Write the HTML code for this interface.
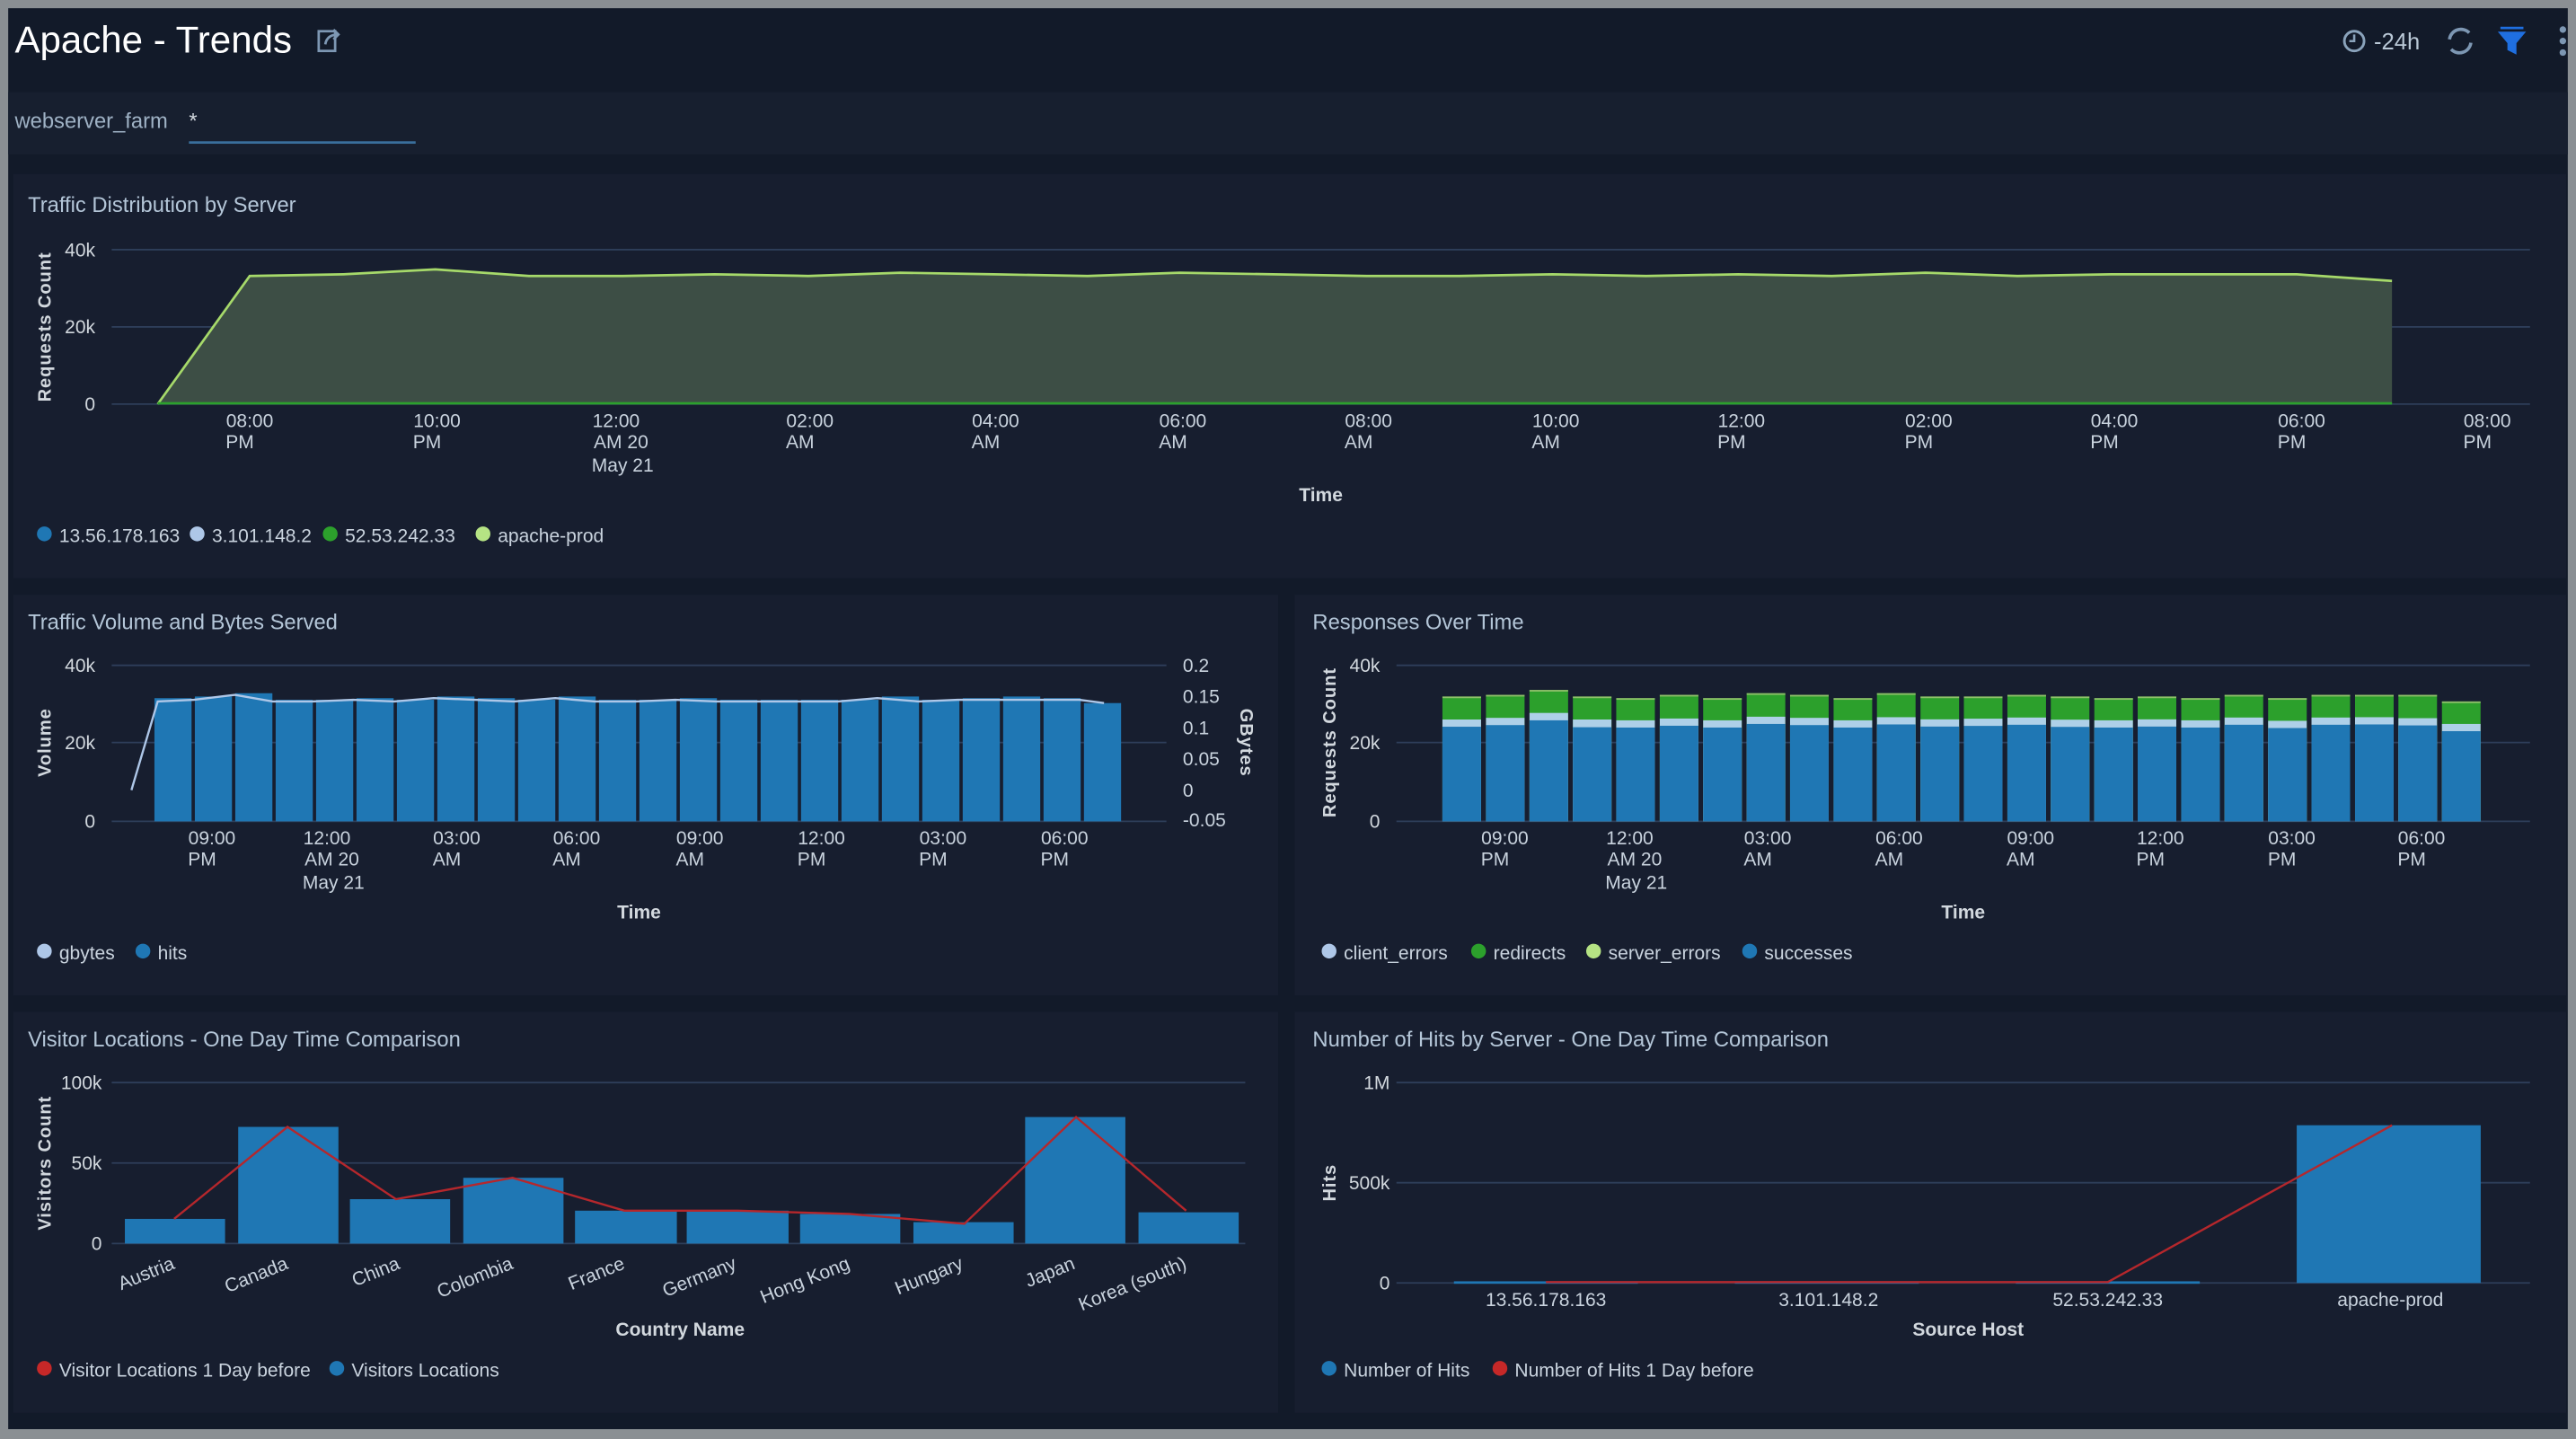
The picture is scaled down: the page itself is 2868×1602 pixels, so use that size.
<!DOCTYPE html>
<html><head><meta charset="utf-8">
<style>
html,body{margin:0;padding:0;background:#8a8f93;width:2868px;height:1602px;overflow:hidden}
svg{display:block}
text{font-family:"Liberation Sans",sans-serif;fill:#c9d3de}
.t{fill:#b4c6d8;font-size:13px}
.ax{font-size:11.5px;fill:#d2d8de}
.lg{font-size:11.5px;fill:#d2d8de}
.yl{font-size:11px;font-weight:bold;fill:#d2d8de;letter-spacing:0.5px}
.grid{stroke:#2e3e5a;stroke-width:1}
</style></head><body>
<svg width="2868" height="1602" viewBox="0 0 1568 876" preserveAspectRatio="none" xmlns="http://www.w3.org/2000/svg">
<rect x="0" y="0" width="1568" height="876" fill="#8a8f93"/>
<rect x="5" y="5" width="1558" height="865" fill="#121a29"/>
<rect x="5" y="56" width="1558" height="38" fill="#171f2f"/>
<!-- header -->
<text x="9" y="32" style="font-size:23px;fill:#ffffff">Apache - Trends</text>
<g fill="none" stroke="#7d97b3" stroke-width="1.5"><rect x="194" y="19" width="10" height="12"/><path d="M198 27 q1 -6 8 -6 M203 18 l3 3 -3 3"/></g>
<circle cx="1433" cy="25" r="6" fill="none" stroke="#8aa3bb" stroke-width="1.6"/><path d="M1433 21v4h-3" stroke="#8aa3bb" stroke-width="1.4" fill="none"/>
<text x="1445" y="30" style="font-size:14px;fill:#b9c8d6">-24h</text>
<path d="M1491 24 a7 7 0 0 1 12 -4 M1504 26 a7 7 0 0 1 -12 4" stroke="#7d97b3" stroke-width="2" fill="none"/>
<path d="M1522 17 h14 M1522 20 h14 l-5 6 v6 l-4 -2 v-4z" stroke="#1f6fe0" stroke-width="1.5" fill="#1f6fe0"/>
<circle cx="1560" cy="18" r="2" fill="#7d97b3"/><circle cx="1560" cy="25" r="2" fill="#7d97b3"/><circle cx="1560" cy="32" r="2" fill="#7d97b3"/>
<text x="9" y="78" style="font-size:13px;fill:#9fb2c5">webserver_farm</text>
<text x="115" y="78" style="font-size:13px;fill:#d2d8de">*</text>
<rect x="115" y="86" width="138" height="1.5" fill="#3a6f9c"/>

<!-- panels -->
<rect x="8" y="106" width="1554" height="246" fill="#171e2f"/>
<rect x="8" y="362" width="770" height="244" fill="#171e2f"/>
<rect x="788" y="362" width="774" height="244" fill="#171e2f"/>
<rect x="8" y="616" width="770" height="244" fill="#171e2f"/>
<rect x="788" y="616" width="774" height="244" fill="#171e2f"/>

<!-- PANEL 1 -->
<text class="t" x="17" y="129">Traffic Distribution by Server</text>
<line class="grid" x1="68" y1="152" x2="1540" y2="152"/>
<line class="grid" x1="68" y1="199" x2="1540" y2="199"/>
<line class="grid" x1="68" y1="246" x2="1540" y2="246"/>
<text class="ax" x="58" y="156" text-anchor="end">40k</text>
<text class="ax" x="58" y="203" text-anchor="end">20k</text>
<text class="ax" x="58" y="250" text-anchor="end">0</text>
<text class="yl" transform="translate(31,199) rotate(-90)" text-anchor="middle">Requests Count</text>
<polygon fill="#3d4e45" points="96,246 152,168 209,167 265,164 322,168 379,168 435,167 492,168 548,166 605,167 662,168 718,166 775,167 832,168 888,168 945,167 1002,168 1058,167 1115,168 1172,166 1228,168 1285,167 1342,167 1398,167 1456,171 1456,246"/>
<polyline fill="none" stroke="#a6d96a" stroke-width="1.5" points="96,246 152,168 209,167 265,164 322,168 379,168 435,167 492,168 548,166 605,167 662,168 718,166 775,167 832,168 888,168 945,167 1002,168 1058,167 1115,168 1172,166 1228,168 1285,167 1342,167 1398,167 1456,171"/>
<line x1="96" y1="245.5" x2="1456" y2="245.5" stroke="#2ca02c" stroke-width="1.5"/>
<g class="ax" text-anchor="middle">
<text x="152" y="260">08:00</text><text x="146" y="273">PM</text>
<text x="266" y="260">10:00</text><text x="260" y="273">PM</text>
<text x="375" y="260">12:00</text><text x="378" y="273">AM 20</text><text x="379" y="287">May 21</text>
<text x="493" y="260">02:00</text><text x="487" y="273">AM</text>
<text x="606" y="260">04:00</text><text x="600" y="273">AM</text>
<text x="720" y="260">06:00</text><text x="714" y="273">AM</text>
<text x="833" y="260">08:00</text><text x="827" y="273">AM</text>
<text x="947" y="260">10:00</text><text x="941" y="273">AM</text>
<text x="1060" y="260">12:00</text><text x="1054" y="273">PM</text>
<text x="1174" y="260">02:00</text><text x="1168" y="273">PM</text>
<text x="1287" y="260">04:00</text><text x="1281" y="273">PM</text>
<text x="1401" y="260">06:00</text><text x="1395" y="273">PM</text>
<text x="1514" y="260">08:00</text><text x="1508" y="273">PM</text>
</g>
<text class="ax" x="804" y="305" text-anchor="middle" style="font-weight:bold">Time</text>
<g class="lg">
<circle cx="27" cy="325" r="4.5" fill="#1f77b4"/><text x="36" y="330">13.56.178.163</text>
<circle cx="120" cy="325" r="4.5" fill="#aec7e8"/><text x="129" y="330">3.101.148.2</text>
<circle cx="201" cy="325" r="4.5" fill="#2ca02c"/><text x="210" y="330">52.53.242.33</text>
<circle cx="294" cy="325" r="4.5" fill="#b5e384"/><text x="303" y="330">apache-prod</text>
</g>

<!-- PANEL 2 -->
<text class="t" x="17" y="383">Traffic Volume and Bytes Served</text>
<line class="grid" x1="68" y1="405" x2="710" y2="405"/>
<line class="grid" x1="68" y1="452" x2="710" y2="452"/>
<line class="grid" x1="68" y1="500" x2="710" y2="500"/>
<text class="ax" x="58" y="409" text-anchor="end">40k</text>
<text class="ax" x="58" y="456" text-anchor="end">20k</text>
<text class="ax" x="58" y="504" text-anchor="end">0</text>
<g class="ax"><text x="720" y="409">0.2</text><text x="720" y="428">0.15</text><text x="720" y="447">0.1</text><text x="720" y="466">0.05</text><text x="720" y="485">0</text><text x="720" y="503">-0.05</text></g>
<text class="yl" transform="translate(31,452) rotate(-90)" text-anchor="middle">Volume</text>
<text class="yl" transform="translate(755,452) rotate(90)" text-anchor="middle">GBytes</text>
<g fill="#1f77b4">
<rect x="94" y="425" width="22.6" height="75"/><rect x="118.6" y="424" width="22.6" height="76"/><rect x="143.2" y="422" width="22.6" height="78"/><rect x="167.8" y="426" width="22.6" height="74"/><rect x="192.4" y="426" width="22.6" height="74"/><rect x="217" y="425" width="22.6" height="75"/><rect x="241.6" y="426" width="22.6" height="74"/><rect x="266.2" y="424" width="22.6" height="76"/><rect x="290.8" y="425" width="22.6" height="75"/><rect x="315.4" y="426" width="22.6" height="74"/><rect x="340" y="424" width="22.6" height="76"/><rect x="364.6" y="426" width="22.6" height="74"/><rect x="389.2" y="426" width="22.6" height="74"/><rect x="413.8" y="425" width="22.6" height="75"/><rect x="438.4" y="426" width="22.6" height="74"/><rect x="463" y="426" width="22.6" height="74"/><rect x="487.6" y="426" width="22.6" height="74"/><rect x="512.2" y="426" width="22.6" height="74"/><rect x="536.8" y="424" width="22.6" height="76"/><rect x="561.4" y="426" width="22.6" height="74"/><rect x="586" y="425" width="22.6" height="75"/><rect x="610.6" y="424" width="22.6" height="76"/><rect x="635.2" y="425" width="22.6" height="75"/><rect x="659.8" y="428" width="22.6" height="72"/>
</g>
<polyline fill="none" stroke="#aec7e8" stroke-width="1.3" points="80,481 96,427 118,426 143,423 166,427 190,427 215,426 240,427 264,425 289,426 313,427 338,425 362,427 387,427 411,426 436,427 460,427 485,427 510,427 534,425 559,427 583,426 608,426 632,426 657,426 672,428"/>
<g class="ax" text-anchor="middle">
<text x="129" y="514">09:00</text><text x="123" y="527">PM</text>
<text x="199" y="514">12:00</text><text x="202" y="527">AM 20</text><text x="203" y="541">May 21</text>
<text x="278" y="514">03:00</text><text x="272" y="527">AM</text>
<text x="351" y="514">06:00</text><text x="345" y="527">AM</text>
<text x="426" y="514">09:00</text><text x="420" y="527">AM</text>
<text x="500" y="514">12:00</text><text x="494" y="527">PM</text>
<text x="574" y="514">03:00</text><text x="568" y="527">PM</text>
<text x="648" y="514">06:00</text><text x="642" y="527">PM</text>
</g>
<text class="ax" x="389" y="559" text-anchor="middle" style="font-weight:bold">Time</text>
<g class="lg">
<circle cx="27" cy="579" r="4.5" fill="#aec7e8"/><text x="36" y="584">gbytes</text>
<circle cx="87" cy="579" r="4.5" fill="#1f77b4"/><text x="96" y="584">hits</text>
</g>

<!-- PANEL 3 -->
<text class="t" x="799" y="383">Responses Over Time</text>
<line class="grid" x1="850" y1="405" x2="1540" y2="405"/>
<line class="grid" x1="850" y1="452" x2="1540" y2="452"/>
<line class="grid" x1="850" y1="500" x2="1540" y2="500"/>
<text class="ax" x="840" y="409" text-anchor="end">40k</text>
<text class="ax" x="840" y="456" text-anchor="end">20k</text>
<text class="ax" x="840" y="504" text-anchor="end">0</text>
<text class="yl" transform="translate(813,452) rotate(-90)" text-anchor="middle">Requests Count</text>
<g fill="#2ca02c">
<rect x="878" y="424" width="23.5" height="76"/><rect x="904.5" y="423" width="23.5" height="77"/><rect x="931" y="420" width="23.5" height="80"/><rect x="957.4" y="424" width="23.5" height="76"/><rect x="983.8" y="425" width="23.5" height="75"/><rect x="1010.3" y="423" width="23.5" height="77"/><rect x="1036.7" y="425" width="23.5" height="75"/><rect x="1063.2" y="422" width="23.5" height="78"/><rect x="1089.6" y="423" width="23.5" height="77"/><rect x="1116.1" y="425" width="23.5" height="75"/><rect x="1142.5" y="422" width="23.5" height="78"/><rect x="1169" y="424" width="23.5" height="76"/><rect x="1195.4" y="424" width="23.5" height="76"/><rect x="1221.9" y="423" width="23.5" height="77"/><rect x="1248.3" y="424" width="23.5" height="76"/><rect x="1274.8" y="425" width="23.5" height="75"/><rect x="1301.2" y="424" width="23.5" height="76"/><rect x="1327.7" y="425" width="23.5" height="75"/><rect x="1354.1" y="423" width="23.5" height="77"/><rect x="1380.6" y="425" width="23.5" height="75"/><rect x="1407" y="423" width="23.5" height="77"/><rect x="1433.5" y="423" width="23.5" height="77"/><rect x="1459.9" y="423" width="23.5" height="77"/><rect x="1486.4" y="427" width="23.5" height="73"/>
</g>
<g fill="#8fbf6a">
<rect x="878" y="424" width="23.5" height="1"/><rect x="904.5" y="423" width="23.5" height="1"/><rect x="931" y="420" width="23.5" height="1"/><rect x="957.4" y="424" width="23.5" height="1"/><rect x="983.8" y="425" width="23.5" height="1"/><rect x="1010.3" y="423" width="23.5" height="1"/><rect x="1036.7" y="425" width="23.5" height="1"/><rect x="1063.2" y="422" width="23.5" height="1"/><rect x="1089.6" y="423" width="23.5" height="1"/><rect x="1116.1" y="425" width="23.5" height="1"/><rect x="1142.5" y="422" width="23.5" height="1"/><rect x="1169" y="424" width="23.5" height="1"/><rect x="1195.4" y="424" width="23.5" height="1"/><rect x="1221.9" y="423" width="23.5" height="1"/><rect x="1248.3" y="424" width="23.5" height="1"/><rect x="1274.8" y="425" width="23.5" height="1"/><rect x="1301.2" y="424" width="23.5" height="1"/><rect x="1327.7" y="425" width="23.5" height="1"/><rect x="1354.1" y="423" width="23.5" height="1"/><rect x="1380.6" y="425" width="23.5" height="1"/><rect x="1407" y="423" width="23.5" height="1"/><rect x="1433.5" y="423" width="23.5" height="1"/><rect x="1459.9" y="423" width="23.5" height="1"/><rect x="1486.4" y="427" width="23.5" height="1"/>
</g>
<g fill="#aed0e8">
<rect x="878" y="438" width="23.5" height="62"/><rect x="904.5" y="437" width="23.5" height="63"/><rect x="931" y="434" width="23.5" height="66"/><rect x="957.4" y="438" width="23.5" height="62"/><rect x="983.8" y="438.5" width="23.5" height="61.5"/><rect x="1010.3" y="437.4" width="23.5" height="62.6"/><rect x="1036.7" y="438.5" width="23.5" height="61.5"/><rect x="1063.2" y="436.3" width="23.5" height="63.7"/><rect x="1089.6" y="437" width="23.5" height="63"/><rect x="1116.1" y="438.5" width="23.5" height="61.5"/><rect x="1142.5" y="436.6" width="23.5" height="63.4"/><rect x="1169" y="437.9" width="23.5" height="62.1"/><rect x="1195.4" y="437.5" width="23.5" height="62.5"/><rect x="1221.9" y="436.8" width="23.5" height="63.2"/><rect x="1248.3" y="438.1" width="23.5" height="61.9"/><rect x="1274.8" y="438.5" width="23.5" height="61.5"/><rect x="1301.2" y="437.9" width="23.5" height="62.1"/><rect x="1327.7" y="438.5" width="23.5" height="61.5"/><rect x="1354.1" y="436.8" width="23.5" height="63.2"/><rect x="1380.6" y="438.8" width="23.5" height="61.2"/><rect x="1407" y="436.8" width="23.5" height="63.2"/><rect x="1433.5" y="436.6" width="23.5" height="63.4"/><rect x="1459.9" y="437.2" width="23.5" height="62.8"/><rect x="1486.4" y="440.7" width="23.5" height="59.3"/>
</g>
<g fill="#1f77b4">
<rect x="878" y="442.4" width="23.5" height="57.6"/><rect x="904.5" y="441.4" width="23.5" height="58.6"/><rect x="931" y="438.5" width="23.5" height="61.5"/><rect x="957.4" y="442.7" width="23.5" height="57.3"/><rect x="983.8" y="442.9" width="23.5" height="57.1"/><rect x="1010.3" y="441.8" width="23.5" height="58.2"/><rect x="1036.7" y="442.9" width="23.5" height="57.1"/><rect x="1063.2" y="440.7" width="23.5" height="59.3"/><rect x="1089.6" y="441.4" width="23.5" height="58.6"/><rect x="1116.1" y="442.9" width="23.5" height="57.1"/><rect x="1142.5" y="441" width="23.5" height="59"/><rect x="1169" y="442.3" width="23.5" height="57.7"/><rect x="1195.4" y="441.9" width="23.5" height="58.1"/><rect x="1221.9" y="441.2" width="23.5" height="58.8"/><rect x="1248.3" y="442.5" width="23.5" height="57.5"/><rect x="1274.8" y="442.9" width="23.5" height="57.1"/><rect x="1301.2" y="442.3" width="23.5" height="57.7"/><rect x="1327.7" y="442.9" width="23.5" height="57.1"/><rect x="1354.1" y="441.2" width="23.5" height="58.8"/><rect x="1380.6" y="443.2" width="23.5" height="56.8"/><rect x="1407" y="441.2" width="23.5" height="58.8"/><rect x="1433.5" y="441" width="23.5" height="59"/><rect x="1459.9" y="441.6" width="23.5" height="58.4"/><rect x="1486.4" y="445.1" width="23.5" height="54.9"/>
</g>
<g class="ax" text-anchor="middle">
<text x="916" y="514">09:00</text><text x="910" y="527">PM</text>
<text x="992" y="514">12:00</text><text x="995" y="527">AM 20</text><text x="996" y="541">May 21</text>
<text x="1076" y="514">03:00</text><text x="1070" y="527">AM</text>
<text x="1156" y="514">06:00</text><text x="1150" y="527">AM</text>
<text x="1236" y="514">09:00</text><text x="1230" y="527">AM</text>
<text x="1315" y="514">12:00</text><text x="1309" y="527">PM</text>
<text x="1395" y="514">03:00</text><text x="1389" y="527">PM</text>
<text x="1474" y="514">06:00</text><text x="1468" y="527">PM</text>
</g>
<text class="ax" x="1195" y="559" text-anchor="middle" style="font-weight:bold">Time</text>
<g class="lg">
<circle cx="809" cy="579" r="4.5" fill="#aec7e8"/><text x="818" y="584">client_errors</text>
<circle cx="900" cy="579" r="4.5" fill="#2ca02c"/><text x="909" y="584">redirects</text>
<circle cx="970" cy="579" r="4.5" fill="#b5e384"/><text x="979" y="584">server_errors</text>
<circle cx="1065" cy="579" r="4.5" fill="#1f77b4"/><text x="1074" y="584">successes</text>
</g>

<!-- PANEL 4 -->
<text class="t" x="17" y="637">Visitor Locations - One Day Time Comparison</text>
<line class="grid" x1="68" y1="659" x2="758" y2="659"/>
<line class="grid" x1="68" y1="708" x2="758" y2="708"/>
<line class="grid" x1="68" y1="757" x2="758" y2="757"/>
<text class="ax" x="62" y="663" text-anchor="end">100k</text>
<text class="ax" x="62" y="712" text-anchor="end">50k</text>
<text class="ax" x="62" y="761" text-anchor="end">0</text>
<text class="yl" transform="translate(31,708) rotate(-90)" text-anchor="middle">Visitors Count</text>
<g fill="#1f77b4">
<rect x="76" y="742" width="61" height="15"/><rect x="145" y="686" width="61" height="71"/><rect x="213" y="730" width="61" height="27"/><rect x="282" y="717" width="61" height="40"/><rect x="350" y="737" width="62" height="20"/><rect x="418" y="737" width="62" height="20"/><rect x="487" y="739" width="61" height="18"/><rect x="556" y="744" width="61" height="13"/><rect x="624" y="680" width="61" height="77"/><rect x="693" y="738" width="61" height="19"/>
</g>
<polyline fill="none" stroke="#b5272c" stroke-width="1.3" points="106,742 175,686 241,730 312,717 380,737 449,737 517,739 587,745 655,680 722,737"/>
<g class="ax" text-anchor="end">
<text transform="translate(107,772) rotate(-22)">Austria</text>
<text transform="translate(176,772) rotate(-22)">Canada</text>
<text transform="translate(244,772) rotate(-22)">China</text>
<text transform="translate(313,772) rotate(-22)">Colombia</text>
<text transform="translate(381,772) rotate(-22)">France</text>
<text transform="translate(449,772) rotate(-22)">Germany</text>
<text transform="translate(518,772) rotate(-22)">Hong Kong</text>
<text transform="translate(587,772) rotate(-22)">Hungary</text>
<text transform="translate(655,772) rotate(-22)">Japan</text>
<text transform="translate(723,772) rotate(-22)">Korea (south)</text>
</g>
<text class="ax" x="414" y="813" text-anchor="middle" style="font-weight:bold">Country Name</text>
<g class="lg">
<circle cx="27" cy="833" r="4.5" fill="#c62828"/><text x="36" y="838">Visitor Locations 1 Day before</text>
<circle cx="205" cy="833" r="4.5" fill="#1f77b4"/><text x="214" y="838">Visitors Locations</text>
</g>

<!-- PANEL 5 -->
<text class="t" x="799" y="637">Number of Hits by Server - One Day Time Comparison</text>
<line class="grid" x1="850" y1="659" x2="1540" y2="659"/>
<line class="grid" x1="850" y1="720" x2="1540" y2="720"/>
<line class="grid" x1="850" y1="781" x2="1540" y2="781"/>
<text class="ax" x="846" y="663" text-anchor="end">1M</text>
<text class="ax" x="846" y="724" text-anchor="end">500k</text>
<text class="ax" x="846" y="785" text-anchor="end">0</text>
<text class="yl" transform="translate(813,720) rotate(-90)" text-anchor="middle">Hits</text>
<rect x="885" y="780" width="112" height="1.5" fill="#1f77b4"/>
<rect x="1056" y="780" width="112" height="1.5" fill="#1f77b4"/>
<rect x="1227" y="780" width="112" height="1.5" fill="#1f77b4"/>
<rect x="1398" y="685" width="112" height="96" fill="#1f77b4"/>
<polyline fill="none" stroke="#b5272c" stroke-width="1.3" points="941,780.5 1113,780.5 1283,780.5 1456,685"/>
<g class="ax" text-anchor="middle">
<text x="941" y="795">13.56.178.163</text>
<text x="1113" y="795">3.101.148.2</text>
<text x="1283" y="795">52.53.242.33</text>
<text x="1455" y="795">apache-prod</text>
</g>
<text class="ax" x="1198" y="813" text-anchor="middle" style="font-weight:bold">Source Host</text>
<g class="lg">
<circle cx="809" cy="833" r="4.5" fill="#1f77b4"/><text x="818" y="838">Number of Hits</text>
<circle cx="913" cy="833" r="4.5" fill="#c62828"/><text x="922" y="838">Number of Hits 1 Day before</text>
</g>
</svg>
</body></html>
